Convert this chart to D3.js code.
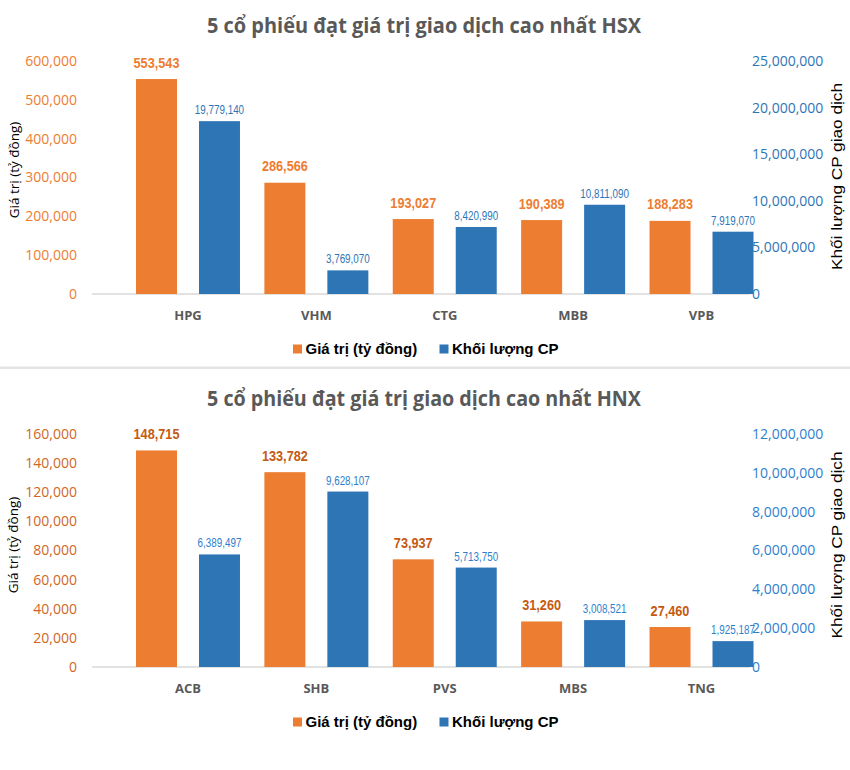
<!DOCTYPE html>
<html>
<head>
<meta charset="utf-8">
<script src="https://cdn.jsdelivr.net/npm/d3@7"></script>
<style>
  html, body { margin: 0; padding: 0; background: #fff; }
  svg { display: block; }
</style>
</head>
<body>
<svg id="chart" width="850" height="770"></svg>
<script>
// ---------- DATA ----------
const hsxTitle = "5 cổ phiếu đạt giá trị giao dịch cao nhất HSX";
const hsxCategories = ["HPG", "VHM", "CTG", "MBB", "VPB"];
const hsxValue = [553543, 286566, 193027, 190389, 188283];
const hsxVolume = [19779140, 3769070, 8420990, 10811090, 7919070];
const hsxLeftTicks = [0, 100000, 200000, 300000, 400000, 500000, 600000];
const hsxRightTicks = [0, 5000000, 10000000, 15000000, 20000000, 25000000];

const hnxTitle = "5 cổ phiếu đạt giá trị giao dịch cao nhất HNX";
const hnxCategories = ["ACB", "SHB", "PVS", "MBS", "TNG"];
const hnxValue = [148715, 133782, 73937, 31260, 27460];
const hnxVolume = [6389497, 9628107, 5713750, 3008521, 1925187];
const hnxLeftTicks = [0, 20000, 40000, 60000, 80000, 100000, 120000, 140000, 160000];
const hnxRightTicks = [0, 2000000, 4000000, 6000000, 8000000, 10000000, 12000000];

const seriesNames = ["Giá trị (tỷ đồng)", "Khối lượng CP"];
const leftAxisTitle = "Giá trị (tỷ đồng)";
const rightAxisTitle = "Khối lượng CP giao dịch";

// ---------- STYLE ----------
const ORANGE = "#ED7D31";
const BLUE = "#2E75B6";
const GRAY = "#595959";
const fmt = d3.format(",");

const svg = d3.select("#chart");

// separator between the two charts
svg.append("rect").attr("x", 0).attr("y", 366.5).attr("width", 850).attr("height", 2.5).attr("fill", "#E4E4E4");

function drawChart(cfg) {
  const g = svg.append("g").attr("transform", `translate(0,${cfg.dy})`);
  const top = 61, base = 294;

  // title
  g.append("text")
    .attr("x", 424).attr("y", 33)
    .attr("text-anchor", "middle")
    .attr("font-family", "'Open Sans', sans-serif")
    .attr("font-weight", 700).attr("font-size", 21)
    .attr("fill", GRAY)
    .attr("textLength", 434).attr("lengthAdjust", "spacingAndGlyphs")
    .text(cfg.title);

  // scales
  const yL = d3.scaleLinear().domain([0, d3.max(cfg.leftTicks)]).range([base, top]);
  const yR = d3.scaleLinear().domain([0, d3.max(cfg.rightTicks)]).range([base, top]);
  const yRBar = d3.scaleLinear().domain([0, d3.max(cfg.rightTicks)]).range([base + 11.5, top + 11.5]);
  const x0 = d3.scaleBand().domain(cfg.categories).range([123.8, 765.7]);
  const x1 = d3.scaleBand().domain(["value", "volume"]).range([12.2, x0.bandwidth() - 12.2]).paddingInner(0.349);

  // left axis
  const axL = g.append("g").attr("transform", "translate(77,0)")
    .call(d3.axisLeft(yL).tickValues(cfg.leftTicks).tickFormat(fmt).tickSize(0).tickPadding(0));
  axL.select(".domain").remove();
  axL.selectAll("text").attr("font-family", "'Open Sans', sans-serif").attr("font-size", 14).attr("fill", cfg.leftColor);

  // right axis
  const axR = g.append("g").attr("transform", "translate(752,0)")
    .call(d3.axisRight(yR).tickValues(cfg.rightTicks).tickFormat(fmt).tickSize(0).tickPadding(0));
  axR.select(".domain").remove();
  axR.selectAll("text").attr("font-family", "'Open Sans', sans-serif").attr("font-size", 14).attr("fill", cfg.rightColor);

  // baseline
  g.append("line").attr("x1", 92).attr("x2", 750).attr("y1", base).attr("y2", base)
    .attr("stroke", "#D9D9D9").attr("stroke-width", 1.5);

  const rows = cfg.categories.map((c, i) => ({ cat: c, value: cfg.value[i], volume: cfg.volume[i] }));

  // orange bars
  g.selectAll(".bv").data(rows).join("rect")
    .attr("x", d => x0(d.cat) + x1("value"))
    .attr("width", x1.bandwidth())
    .attr("y", d => yL(d.value))
    .attr("height", d => base - yL(d.value))
    .attr("fill", ORANGE);

  // blue bars
  g.selectAll(".bq").data(rows).join("rect")
    .attr("x", d => x0(d.cat) + x1("volume"))
    .attr("width", x1.bandwidth())
    .attr("y", d => yRBar(d.volume))
    .attr("height", d => base - yRBar(d.volume))
    .attr("fill", BLUE);

  // value labels (orange, bold, narrow)
  g.selectAll(".lv").data(rows).join("text")
    .attr("transform", d => `translate(${x0(d.cat) + x1("value") + x1.bandwidth() / 2},${yL(d.value) - 11.5}) scale(0.82,1)`)
    .attr("text-anchor", "middle")
    .attr("font-family", "'Liberation Sans', Arial, sans-serif")
    .attr("font-weight", 700).attr("font-size", 15.5)
    .attr("fill", cfg.labelColor)
    .text(d => fmt(d.value));

  // volume labels (blue, narrow)
  g.selectAll(".lq").data(rows).join("text")
    .attr("transform", d => `translate(${x0(d.cat) + x1("volume") + x1.bandwidth() / 2},${yRBar(d.volume) - 7}) scale(0.82,1)`)
    .attr("text-anchor", "middle")
    .attr("font-family", "'Liberation Sans', Arial, sans-serif")
    .attr("font-size", 12)
    .attr("fill", cfg.rightColor)
    .text(d => fmt(d.volume));

  // category labels
  g.selectAll(".cl").data(rows).join("text")
    .attr("x", d => x0(d.cat) + x0.bandwidth() / 2)
    .attr("y", 315).attr("dy", "0.35em")
    .attr("text-anchor", "middle")
    .attr("font-family", "'Open Sans', sans-serif")
    .attr("font-weight", 700).attr("font-size", 13)
    .attr("fill", GRAY)
    .text(d => d.cat);

  // axis titles
  g.append("text")
    .attr("transform", `translate(${cfg.leftTitleX},${cfg.leftTitleY}) rotate(-90)`)
    .attr("text-anchor", "middle").attr("dy", "0.35em")
    .attr("font-family", "'Open Sans', sans-serif").attr("font-size", 13.5)
    .attr("fill", "#000")
    .text(leftAxisTitle);
  g.append("text")
    .attr("transform", `translate(837.5,${cfg.rightTitleY}) rotate(-90)`)
    .attr("text-anchor", "middle").attr("dy", "0.35em")
    .attr("font-family", "'Liberation Sans', Arial, sans-serif").attr("font-size", 14)
    .attr("textLength", 187).attr("lengthAdjust", "spacingAndGlyphs")
    .attr("fill", "#000")
    .text(rightAxisTitle);

  // legend
  const legendItems = [
    { name: seriesNames[0], color: ORANGE, x: 293 },
    { name: seriesNames[1], color: BLUE, x: 439.5 }
  ];
  const lg = g.selectAll(".lg").data(legendItems).join("g")
    .attr("transform", d => `translate(${d.x},349)`);
  lg.append("rect").attr("x", 0).attr("y", -4.5).attr("width", 9).attr("height", 9).attr("fill", d => d.color);
  lg.append("text").attr("x", 12.5).attr("dy", "0.36em")
    .attr("font-family", "'Liberation Sans', Arial, sans-serif")
    .attr("font-weight", 700).attr("font-size", 15)
    .attr("fill", "#000")
    .text(d => d.name);
}

drawChart({
  dy: 0, title: hsxTitle, categories: hsxCategories, value: hsxValue, volume: hsxVolume,
  leftTicks: hsxLeftTicks, rightTicks: hsxRightTicks,
  leftColor: "#ED7D31", labelColor: "#ED7D31", rightColor: "#2E75B6",
  leftTitleX: 14.5, leftTitleY: 170, rightTitleY: 176.5
});
drawChart({
  dy: 373, title: hnxTitle, categories: hnxCategories, value: hnxValue, volume: hnxVolume,
  leftTicks: hnxLeftTicks, rightTicks: hnxRightTicks,
  leftColor: "#D0661F", labelColor: "#C55A11", rightColor: "#2E80CE",
  leftTitleX: 13.5, leftTitleY: 172, rightTitleY: 172
});
</script>
</body>
</html>
